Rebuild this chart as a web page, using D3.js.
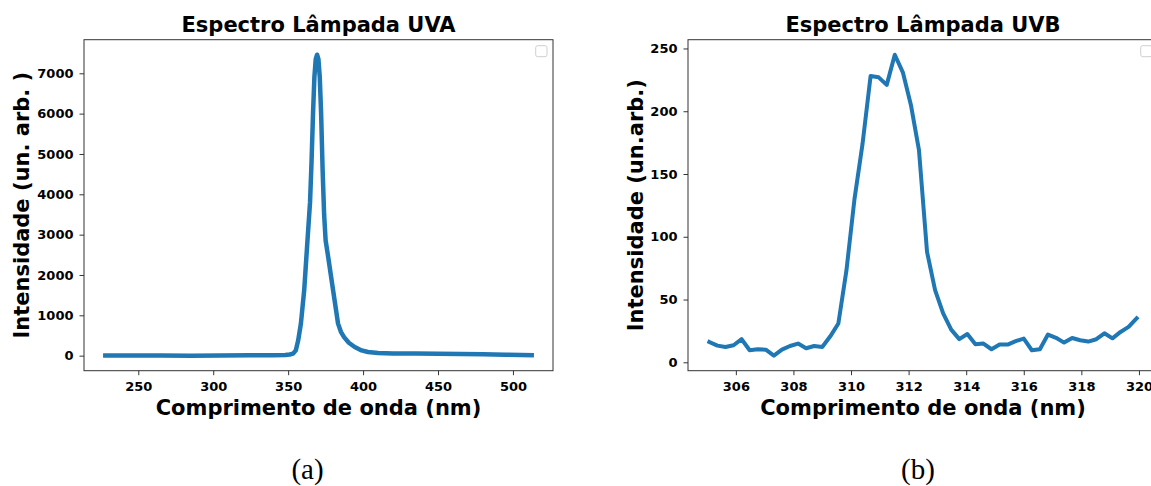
<!DOCTYPE html>
<html>
<head>
<meta charset="utf-8">
<script src="https://cdn.jsdelivr.net/npm/d3@7"></script>
<style>
  html, body { margin: 0; padding: 0; background: #fff; }
  svg { display: block; }
  .title, .axis-label { font-family: "DejaVu Sans", sans-serif; font-weight: bold; font-size: 21px; fill: #000; }
  .caption { font-family: "Liberation Serif", "DejaVu Serif", serif; font-size: 29px; fill: #000; }
</style>
</head>
<body>
<svg id="fig" width="1151" height="486"></svg>
<script>
// UVA lamp spectrum: wavelength (nm) and intensity (arb. units)
const uvaWavelength = [228, 245, 265, 285, 305, 325, 340, 348, 351, 353.3, 355.1, 356.7, 358.5,
  360.7, 362.9, 364.6, 365.6, 366.6, 367.5, 368.4, 369.3, 370.2, 371.1, 372.0, 373.0, 374.0,
  375.0, 376.7, 380.0, 383.3, 385.2, 387.3, 390.5, 394.4, 399, 403.3, 410, 420, 435, 450, 465,
  480, 495, 512.5];
const uvaIntensity = [5, 3, 2, 0, 4, 8, 12, 18, 28, 50, 130, 380, 794,
  1620, 2860, 3800, 4800, 6000, 6900, 7350, 7460, 7350, 6900, 6000, 4600, 3500,
  2860, 2450, 1620, 794, 590, 460, 320, 214, 130, 90, 65, 55, 55, 48, 40,
  32, 22, 12];

// UVB lamp spectrum: wavelength (nm) and intensity (arb. units)
const uvbWavelength = [305.08, 305.36, 305.64, 305.92, 306.20, 306.48, 306.76, 307.04, 307.32,
  307.60, 307.88, 308.16, 308.44, 308.72, 309.00, 309.28, 309.56, 309.84, 310.12, 310.40,
  310.68, 310.96, 311.24, 311.52, 311.80, 312.08, 312.36, 312.64, 312.92, 313.20, 313.48,
  313.76, 314.04, 314.32, 314.60, 314.88, 315.16, 315.44, 315.72, 316.00, 316.28, 316.56,
  316.84, 317.12, 317.40, 317.68, 317.96, 318.24, 318.52, 318.80, 319.08, 319.36, 319.64,
  319.92];
const uvbIntensity = [16.2, 13.3, 12.2, 13.6, 18.4, 9.6, 10.4, 10.1, 5.3,
  10.1, 13.0, 14.9, 11.2, 13.0, 12.2, 20.7, 30.9, 73, 130, 174,
  228, 227, 221, 245, 231, 205, 169, 88, 57.5, 39, 26,
  18.5, 22.5, 14.4, 14.9, 10.4, 14.1, 14.1, 16.8, 18.9, 9.6, 10.4,
  22.1, 19.5, 15.7, 19.4, 17.6, 16.5, 18.4, 23.1, 19.1, 24.2, 28.2,
  35.0];

// Tick values
const uvaXTicks = [250, 300, 350, 400, 450, 500];
const uvaYTicks = [0, 1000, 2000, 3000, 4000, 5000, 6000, 7000];
const uvbXTicks = [306, 308, 310, 312, 314, 316, 318, 320];
const uvbYTicks = [0, 50, 100, 150, 200, 250];

// Texts
const titles = ["Espectro Lâmpada UVA", "Espectro Lâmpada UVB"];
const xLabels = ["Comprimento de onda (nm)", "Comprimento de onda (nm)"];
const yLabels = ["Intensidade (un. arb. )", "Intensidade (un.arb.)"];
const captions = ["(a)", "(b)"];

const lineColor = "#1f77b4";
const svg = d3.select("#fig");

// Pad an extent by 5% on each side, like default plot margins
function padded(values) {
  const [lo, hi] = d3.extent(values);
  const m = (hi - lo) * 0.05;
  return [lo - m, hi + m];
}

function panel(opts) {
  const { left, top, width, height, xs, ys, xTicks, yTicks, title, xLabel, yLabel,
          yLabelX, caption, captionX, strokeWidth } = opts;
  const g = svg.append("g").attr("transform", `translate(${left},${top})`);

  const x = d3.scaleLinear().domain(padded(xs)).range([0, width]);
  const y = d3.scaleLinear().domain(padded(ys)).range([height, 0]);

  const clipId = "clip-" + Math.round(left);
  g.append("clipPath").attr("id", clipId)
    .append("rect").attr("width", width).attr("height", height);

  const pts = xs.map((v, i) => [v, ys[i]]);
  g.append("path")
    .datum(pts)
    .attr("clip-path", `url(#${clipId})`)
    .attr("fill", "none")
    .attr("stroke", lineColor)
    .attr("stroke-width", strokeWidth)
    .attr("stroke-linejoin", "round")
    .attr("stroke-linecap", "square")
    .attr("d", d3.line().x(d => x(d[0])).y(d => y(d[1])));

  // Axes
  const xAxis = g.append("g").attr("transform", `translate(0,${height})`)
    .call(d3.axisBottom(x).tickValues(xTicks).tickFormat(d3.format("d"))
      .tickSize(4.5).tickPadding(6.3).tickSizeOuter(0));
  const yAxis = g.append("g")
    .call(d3.axisLeft(y).tickValues(yTicks).tickFormat(d3.format("d"))
      .tickSize(4.5).tickPadding(6).tickSizeOuter(0));
  [xAxis, yAxis].forEach(a => {
    a.select(".domain").remove();
    a.selectAll(".tick line").attr("stroke", "#333").attr("stroke-width", 1);
    a.selectAll(".tick text")
      .style("font-family", "'DejaVu Sans', sans-serif")
      .style("font-size", "13px")
      .style("font-weight", "bold")
      .style("fill", "#000");
  });

  // Frame
  g.append("rect").attr("width", width).attr("height", height)
    .attr("fill", "none").attr("stroke", "#333").attr("stroke-width", 1);

  // Empty legend box
  g.append("rect")
    .attr("x", width - 17.3).attr("y", 6).attr("width", 11.3).attr("height", 11)
    .attr("rx", 2).attr("fill", "#fff").attr("stroke", "#cfcfcf").attr("stroke-width", 1);

  g.append("text").attr("class", "title")
    .attr("x", width / 2).attr("y", -8.2).attr("text-anchor", "middle").text(title);
  g.append("text").attr("class", "axis-label")
    .attr("x", width / 2).attr("y", height + 44.5).attr("text-anchor", "middle").text(xLabel);
  g.append("text").attr("class", "axis-label")
    .attr("transform", `translate(${yLabelX - left},${height / 2}) rotate(-90)`)
    .attr("text-anchor", "middle").text(yLabel);

  svg.append("text").attr("class", "caption")
    .attr("x", captionX).attr("y", 479).attr("text-anchor", "middle").text(caption);
}

panel({
  left: 84, top: 39.7, width: 469, height: 331,
  xs: uvaWavelength, ys: uvaIntensity, xTicks: uvaXTicks, yTicks: uvaYTicks,
  title: titles[0], xLabel: xLabels[0], yLabel: yLabels[0], yLabelX: 28.5,
  caption: captions[0], captionX: 307.5, strokeWidth: 4.5
});

panel({
  left: 688, top: 39.7, width: 470, height: 331,
  xs: uvbWavelength, ys: uvbIntensity, xTicks: uvbXTicks, yTicks: uvbYTicks,
  title: titles[1], xLabel: xLabels[1], yLabel: yLabels[1], yLabelX: 642.5,
  caption: captions[1], captionX: 918, strokeWidth: 4
});
</script>
</body>
</html>
